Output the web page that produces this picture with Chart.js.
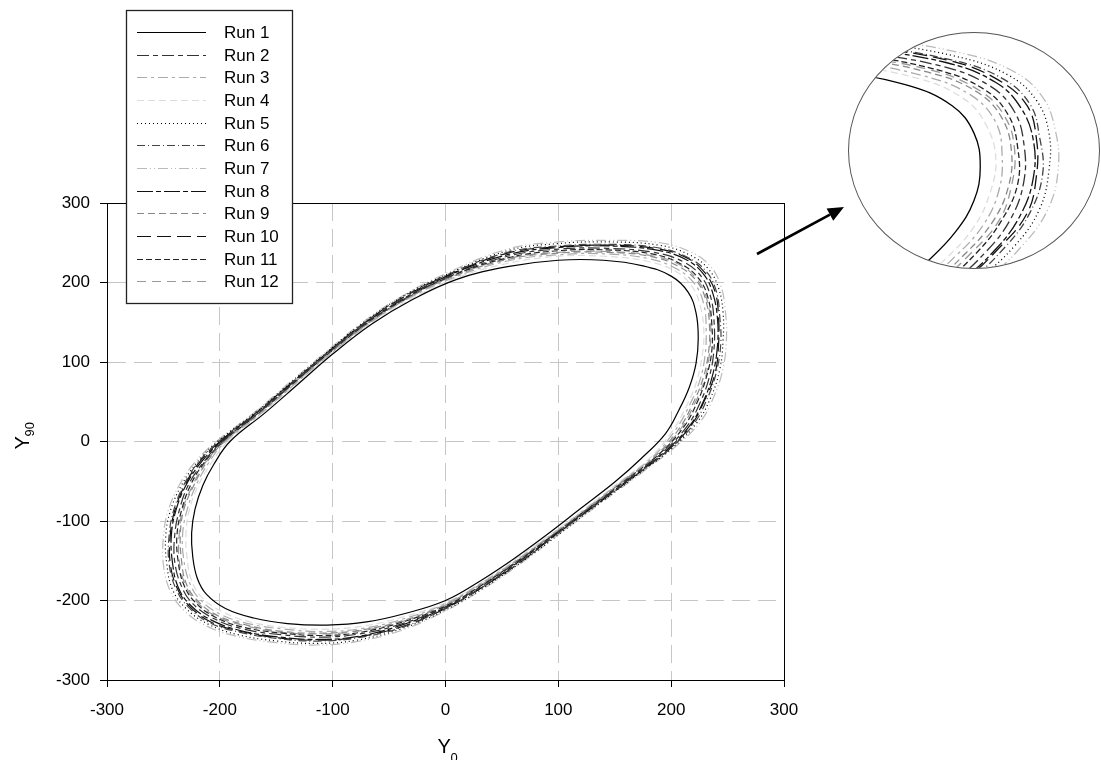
<!DOCTYPE html>
<html><head><meta charset="utf-8">
<script src="https://cdn.jsdelivr.net/npm/chart.js@4.4.1/dist/chart.umd.min.js"></script>
<style>
html,body{margin:0;padding:0;background:#fff;}
#wrap{position:relative;width:1101px;height:760px;overflow:hidden;}
#main{position:absolute;left:0;top:0;}
#inset{position:absolute;left:848px;top:32px;width:252px;height:237px;border:1px solid #555;border-radius:50%;overflow:hidden;box-sizing:border-box;background:#fff;}
#insetc{position:absolute;left:0;top:0;}
</style></head><body>
<div id="wrap"><canvas id="main" width="1101" height="760"></canvas>
<div id="inset"><canvas id="insetc" width="250" height="235"></canvas></div></div>
<script>
// ---- data ----
const runLabels = ['Run 1','Run 2','Run 3','Run 4','Run 5','Run 6','Run 7','Run 8','Run 9','Run 10','Run 11','Run 12'];
const xTicks = [-300,-200,-100,0,100,200,300];
const yTicks = [-300,-200,-100,0,100,200,300];

const run1X  = [-191,-160,-130,-100,-65,-30,10,55,100,140,175,200,215,222,224,222,216,207,195,173,150,120,90,60,30,0,-35,-70,-105,-140,-170,-195,-212,-220,-224,-225,-222,-215,-205];
const run1Y  = [0,36,73,110,148,178,204,220,228,228,221,208,188,162,130,98,68,40,10,-22,-51,-84,-117,-148,-176,-200,-216,-227,-231,-229,-222,-210,-192,-172,-145,-115,-85,-55,-28];
const run2X  = [-198,-166,-136,-106,-73,-37,4,55,100,143,184,211,227,235,238,238,234,226,214,193,165,132,99,66,33,0,-38,-76,-111,-146,-179,-205,-224,-234,-240,-240,-236,-228,-215];
const run2Y  = [0,36,72,109,146,179,208,233,242,243,238,226,207,182,151,117,82,50,19,-13,-44,-79,-114,-149,-181,-208,-229,-242,-246,-243,-236,-223,-204,-182,-151,-118,-87,-55,-27];
const run3X  = [-195,-163,-133,-103,-69,-34,7,55,100,142,180,205,221,229,231,230,225,216,204,184,158,126,95,63,32,0,-37,-73,-108,-143,-175,-200,-218,-227,-232,-233,-229,-221,-210];
const run3Y  = [0,36,73,109,147,179,206,227,235,236,230,217,198,172,141,108,75,45,15,-19,-48,-83,-116,-149,-178,-204,-223,-235,-239,-236,-229,-217,-198,-177,-148,-117,-86,-55,-27];
const run4X  = [-193,-162,-132,-102,-68,-32,8,55,100,141,178,204,219,226,229,227,222,213,201,181,155,124,93,62,31,0,-36,-72,-107,-142,-173,-198,-216,-225,-229,-230,-227,-219,-208];
const run4Y  = [0,36,73,110,147,178,205,224,233,233,227,214,194,169,137,104,73,43,13,-21,-50,-84,-117,-148,-178,-203,-220,-232,-236,-234,-227,-214,-196,-175,-147,-116,-86,-55,-28];
const run5X  = [-202,-169,-139,-109,-77,-41,1,55,100,145,189,216,233,242,246,246,243,235,223,202,173,138,104,69,35,0,-40,-79,-114,-149,-184,-210,-230,-242,-247,-248,-244,-234,-220];
const run5Y  = [0,36,72,108,145,180,210,240,249,251,247,235,217,193,162,127,90,55,24,-7,-39,-76,-113,-150,-183,-212,-236,-250,-254,-251,-243,-230,-210,-186,-154,-120,-88,-55,-26];
const run6X  = [-201,-168,-138,-108,-75,-40,2,55,100,144,187,214,231,240,243,244,240,232,220,199,170,136,102,68,34,0,-39,-78,-113,-148,-182,-209,-228,-239,-245,-245,-241,-232,-219];
const run6Y  = [0,36,72,108,146,180,210,238,246,248,244,232,214,189,158,124,87,54,22,-9,-41,-77,-113,-150,-182,-210,-234,-247,-251,-248,-240,-228,-208,-185,-153,-119,-87,-55,-26];
const run7X  = [-203,-170,-140,-110,-78,-42,0,55,100,145,190,218,235,244,248,249,246,238,226,205,175,140,105,70,35,0,-40,-80,-115,-150,-185,-212,-232,-244,-250,-250,-246,-236,-222];
const run7Y  = [0,36,72,108,145,180,211,242,251,253,250,238,220,196,165,130,92,57,25,-5,-38,-75,-112,-150,-184,-213,-238,-252,-256,-253,-245,-232,-212,-188,-155,-120,-88,-55,-26];
const run8X  = [-199,-167,-137,-107,-74,-38,3,55,100,144,186,213,229,237,241,241,237,229,217,196,168,134,101,67,34,0,-39,-77,-112,-147,-181,-207,-226,-237,-242,-243,-239,-230,-217];
const run8Y  = [0,36,72,109,146,179,209,235,244,246,241,229,210,186,155,120,85,52,21,-11,-42,-78,-114,-149,-182,-209,-231,-245,-249,-246,-238,-225,-206,-183,-152,-119,-87,-55,-27];
const run9X  = [-196,-164,-134,-104,-70,-35,6,55,100,142,181,207,223,231,234,233,228,219,207,187,160,128,96,64,32,0,-37,-74,-109,-144,-176,-202,-220,-230,-234,-235,-232,-223,-212];
const run9Y  = [0,36,73,109,147,179,207,229,237,238,233,220,201,176,144,111,78,47,16,-17,-47,-82,-116,-149,-179,-205,-225,-237,-241,-239,-231,-219,-200,-178,-149,-117,-86,-55,-27];
const run10X = [-200,-168,-138,-108,-75,-39,2,55,100,144,186,214,230,239,242,242,239,230,218,198,169,135,101,68,34,0,-39,-78,-113,-148,-181,-208,-227,-238,-244,-244,-240,-231,-218];
const run10Y = [0,36,72,108,146,180,209,237,245,247,243,231,212,188,156,122,86,53,21,-10,-42,-78,-113,-150,-182,-210,-233,-246,-250,-247,-239,-227,-207,-184,-153,-119,-87,-55,-26];
const run11X = [-197,-165,-135,-105,-72,-36,5,55,100,143,183,209,225,233,236,236,231,223,211,190,163,130,98,65,33,0,-38,-75,-110,-145,-178,-204,-222,-232,-237,-238,-234,-226,-214];
const run11Y = [0,36,73,109,146,179,208,231,240,241,236,223,204,179,148,114,80,49,18,-15,-45,-80,-115,-149,-180,-207,-227,-240,-244,-241,-234,-221,-202,-180,-150,-118,-87,-55,-27];
const run12X = [-196,-165,-135,-105,-71,-35,5,55,100,142,182,208,224,232,235,234,230,221,209,189,161,129,97,65,32,0,-37,-75,-110,-145,-177,-203,-221,-231,-236,-236,-233,-224,-213];
const run12Y = [0,36,73,109,147,179,207,230,238,239,234,222,202,177,146,112,79,48,17,-16,-46,-81,-115,-149,-180,-206,-226,-238,-242,-240,-232,-220,-201,-179,-150,-117,-86,-55,-27];

// ---- styles ----
const runColors = ['#000000','#333333','#aaaaaa','#dddddd','#000000','#444444','#bbbbbb','#111111','#888888','#111111','#222222','#999999'];
const runDashes = [[],[12,4,5,4],[10,4,3,4],[7,4],[1,3],[8,3,1,3],[10,3,1,3,1,3],[16,3,5,3],[7,4],[14,6],[6,3],[9,6]];

const allX = [run1X,run2X,run3X,run4X,run5X,run6X,run7X,run8X,run9X,run10X,run11X,run12X];
const allY = [run1Y,run2Y,run3Y,run4Y,run5Y,run6Y,run7Y,run8Y,run9Y,run10Y,run11Y,run12Y];

function loopPoints(xs, ys){
  return xs.map((x,i)=>({x:x, y:ys[i]}));
}
function makeDatasets(width){
  return runLabels.map((lab,i)=>({
    label: lab,
    data: loopPoints(allX[i], allY[i]),
    showLine: true,
    borderColor: runColors[i],
    backgroundColor: runColors[i],
    borderDash: runDashes[i],
    borderWidth: width,
    pointRadius: 0,
    tension: 0.4,
    fill: false
  }));
}

// make every line a closed, smooth loop (like a radar line)
const closedLoopPlugin = {
  id: 'closedLoop',
  afterDatasetUpdate(chart, args){
    const line = args.meta.dataset;
    if (!line) return;
    line._loop = true;
    line._fullLoop = true;
    line._pointsUpdated = false;
    line._segments = undefined;
    line._path = undefined;
  }
};

const FONT = '"Liberation Sans", Arial, sans-serif';

const decorPlugin = {
  id: 'decor',
  afterDraw(chart){
    const ctx = chart.ctx, a = chart.chartArea;
    ctx.save();
    // frame
    ctx.strokeStyle = '#000'; ctx.lineWidth = 1; ctx.setLineDash([]);
    const l = Math.round(a.left-0.5)+0.5, t = Math.round(a.top-0.5)+0.5;
    const r = Math.round(a.right-0.5)+0.5, b = Math.round(a.bottom-0.5)+0.5;
    ctx.strokeRect(l, t, r-l, b-t);

    // axis titles
    ctx.fillStyle = '#000';
    ctx.textBaseline = 'alphabetic';
    ctx.textAlign = 'left';
    ctx.font = '20px ' + FONT;
    const cx = (a.left + a.right)/2;
    ctx.fillText('Y', cx - 8, 753);
    ctx.font = '13px ' + FONT;
    ctx.fillText('0', cx + 5, 762);
    ctx.save();
    ctx.translate(29, (a.top + a.bottom)/2 + 8);
    ctx.rotate(-Math.PI/2);
    ctx.font = '20px ' + FONT;
    ctx.fillText('Y', 0, 0);
    ctx.font = '13px ' + FONT;
    ctx.fillText('90', 13, 5);
    ctx.restore();

    // legend box
    const L = {x:126, y:10, w:166, h:293};
    ctx.fillStyle = '#fff';
    ctx.fillRect(L.x, L.y, L.w, L.h);
    ctx.strokeStyle = '#222'; ctx.lineWidth = 1.3;
    ctx.strokeRect(L.x+0.5, L.y+0.5, L.w, L.h);
    ctx.font = '17px ' + FONT;
    ctx.textBaseline = 'middle';
    chart.data.datasets.forEach((ds,i)=>{
      const y = Math.round(32 + i*22.65) + 0.5;
      ctx.strokeStyle = ds.borderColor;
      ctx.lineWidth = 1.2;
      ctx.setLineDash(ds.borderDash || []);
      ctx.beginPath(); ctx.moveTo(137, y); ctx.lineTo(206, y); ctx.stroke();
      ctx.setLineDash([]);
      ctx.fillStyle = '#000';
      ctx.fillText(ds.label, 224, y+1);
    });

    // arrow to the inset
    ctx.strokeStyle = '#000'; ctx.fillStyle = '#000'; ctx.lineWidth = 2.6;
    const x1 = 757, y1 = 254, x2 = 844, y2 = 207;
    const ang = Math.atan2(y2-y1, x2-x1);
    const hl = 16, hw = 7;
    const bx = x2 - hl*Math.cos(ang), by = y2 - hl*Math.sin(ang);
    ctx.beginPath(); ctx.moveTo(x1,y1); ctx.lineTo(bx,by); ctx.stroke();
    ctx.beginPath();
    ctx.moveTo(x2,y2);
    ctx.lineTo(bx + hw*Math.sin(ang), by - hw*Math.cos(ang));
    ctx.lineTo(bx - hw*Math.sin(ang), by + hw*Math.cos(ang));
    ctx.closePath(); ctx.fill();
    ctx.restore();
  }
};

function axisOpts(min, max, ticks, isY){
  return {
    type: 'linear', min: min, max: max,
    afterBuildTicks(scale){ scale.ticks = ticks.map(v=>({value:v})); },
    ticks: { color:'#000', font:{family:FONT, size:17}, padding: isY ? 10 : 13, maxRotation:0, autoSkip:false },
    grid: { color:'#c6c6c6', lineWidth:1, tickColor:'#000', tickLength:7, tickWidth:1, tickBorderDash:[] },
    border: { display:true, color:'#000', width:1, dash:[18,8] },
    afterFit(scale){ if(isY){ scale.width = 107; } else { scale.height = 60; } }
  };
}

new Chart(document.getElementById('main'), {
  type: 'scatter',
  data: { datasets: makeDatasets(1.2) },
  options: {
    responsive:false, animation:false, devicePixelRatio:1,
    layout:{ padding:{ left:0, right:317, top:203, bottom:20 } },
    plugins:{ legend:{display:false}, tooltip:{enabled:false} },
    scales:{
      x: axisOpts(-300, 300, xTicks, false),
      y: axisOpts(-300, 300, yTicks, true)
    }
  },
  plugins:[closedLoopPlugin, decorPlugin]
});

// zoomed inset of the upper-right corner of the loops
new Chart(document.getElementById('insetc'), {
  type: 'scatter',
  data: { datasets: makeDatasets(1.3) },
  options: {
    responsive:false, animation:false, devicePixelRatio:1,
    layout:{ padding:0 },
    plugins:{ legend:{display:false}, tooltip:{enabled:false} },
    scales:{
      x:{ type:'linear', min:182, max:262, display:false },
      y:{ type:'linear', min:34, max:257, display:false }
    }
  },
  plugins:[closedLoopPlugin]
});
</script>
</body></html>
